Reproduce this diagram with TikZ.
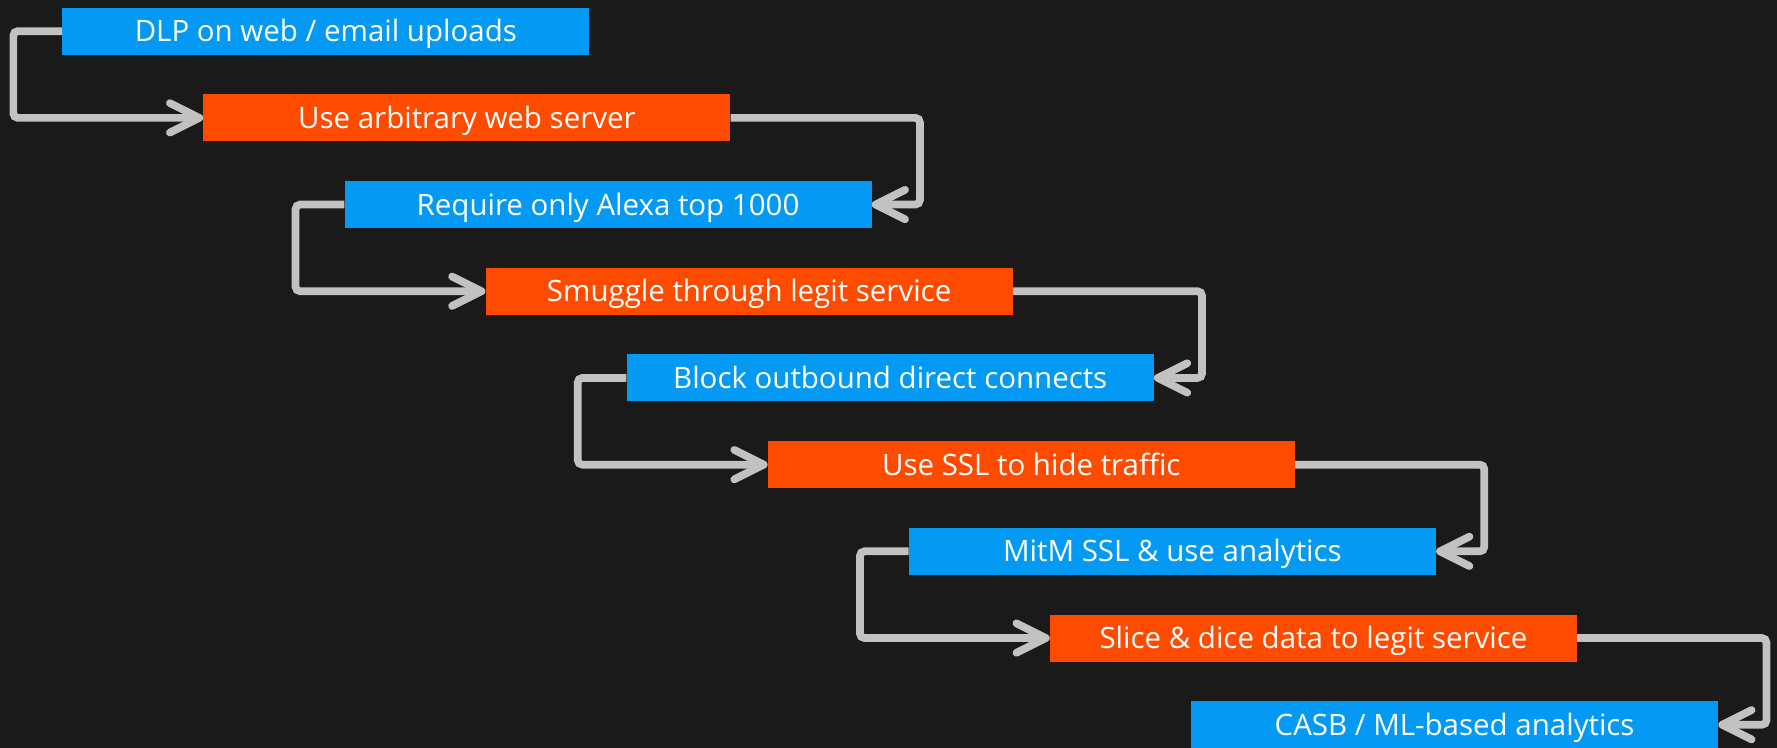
\documentclass[tikz,border=0pt]{standalone}
\usepackage{fontspec}
\setmainfont{Open Sans}
\usetikzlibrary{arrows.meta}
\definecolor{bg}{HTML}{1A1A1A}
\definecolor{bluebox}{HTML}{049AF4}
\definecolor{orangebox}{HTML}{FF4B00}
\definecolor{conncol}{HTML}{C2C2C2}
\tikzset{
  box/.style={rectangle, minimum width=465pt, minimum height=41.5pt, inner sep=0pt,
    text=white, font=\fontsize{26}{30}\selectfont, text height=18.5pt, text depth=0pt},
  bluestep/.style={box, fill=bluebox},
  orangestep/.style={box, fill=orangebox},
  conn/.style={draw=conncol, line width=6.8pt, rounded corners=4pt,
    -{Straight Barb[length=26pt, width=26pt, round]}}
}
\begin{document}
\begin{tikzpicture}[x=1pt, y=-1pt]
\fill[bg] (0,0) rectangle (1568,660);
\useasboundingbox (0,0) rectangle (1568,660);
\node[bluestep]   (n1) at (287.5, 27.5)  {DLP on web / email uploads};
\node[orangestep] (n2) at (412,   104)   {Use arbitrary web server};
\node[bluestep]   (n3) at (536.5, 180.5) {Require only Alexa top 1000};
\node[orangestep] (n4) at (661,   257)   {Smuggle through legit service};
\node[bluestep]   (n5) at (785.5, 333.5) {Block outbound direct connects};
\node[orangestep] (n6) at (910,   410)   {Use SSL to hide traffic};
\node[bluestep]   (n7) at (1034.5,486.5) {MitM SSL \& use analytics};
\node[orangestep] (n8) at (1159,  563)   {Slice \& dice data to legit service};
\node[bluestep]   (n9) at (1283.5,639.5) {CASB / ML-based analytics};
\draw[conn] (n1.west) -- ++(-43,0) |- (n2.west);
\draw[conn] (n2.east) -- ++(167,0) |- (n3.east);
\draw[conn] (n3.west) -- ++(-43,0) |- (n4.west);
\draw[conn] (n4.east) -- ++(167,0) |- (n5.east);
\draw[conn] (n5.west) -- ++(-43,0) |- (n6.west);
\draw[conn] (n6.east) -- ++(167,0) |- (n7.east);
\draw[conn] (n7.west) -- ++(-43,0) |- (n8.west);
\draw[conn] (n8.east) -- ++(167,0) |- (n9.east);
\end{tikzpicture}
\end{document}
